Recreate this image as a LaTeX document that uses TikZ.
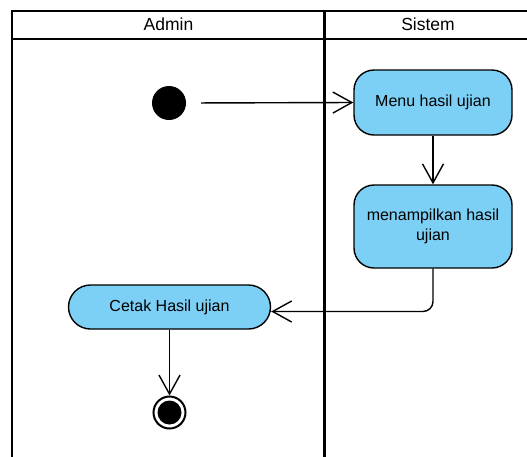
\documentclass[tikz,border=0pt]{standalone}
\usepackage{fontspec}
\setmainfont{Liberation Sans}
\usetikzlibrary{arrows.meta}
\definecolor{actfill}{RGB}{125,208,245}
\begin{document}
\begin{tikzpicture}[x=1pt,y=-1pt,
  lane/.style={line width=2.6pt, line cap=rect},
  action/.style={draw, line width=1.4pt, fill=actfill, rounded corners=20pt,
    minimum width=158pt, font=\fontsize{16}{19.5}\selectfont, align=center, inner sep=0pt},
  flow/.style={line width=1.4pt, -{Straight Barb[length=19pt,width=21pt,line width=1.4pt]}},
  header/.style={font=\fontsize{17.5}{20}\selectfont, inner sep=0pt}
  ]
\useasboundingbox (0,0) rectangle (527,456);

% swimlane frame
\draw[lane] (527,11) -- (12,11) -- (12,456);
\draw[lane] (12,39) -- (527,39);
\draw[lane] (324.5,11) -- (324.5,456);
\node[header] (hadmin) at (168.5,24) {Admin};
\node[header] (hsistem) at (428,24) {Sistem};

% start and end
\node[circle, fill=black, minimum size=34pt, inner sep=0pt] (start) at (169,103) {};
\node[circle, draw, line width=2pt, fill=white, minimum size=32pt, inner sep=0pt] (final) at (169.5,412.5) {};
\node[circle, fill=black, minimum size=24pt, inner sep=0pt] (finaldot) at (final) {};

% actions
\node[action, minimum height=65pt] (menu) at (433,102.5) {Menu hasil ujian};
\node[action, minimum height=83pt] (tampil) at (433,226.5) {menampilkan hasil\\ujian};
\node[action, minimum width=202pt, minimum height=44pt, rounded corners=22pt] (cetak) at (169.5,307) {Cetak Hasil ujian};

% control flow
\draw[flow, shorten <=15pt] (start.east) -- (menu.west);
\draw[flow] (menu.south) -- (tampil.north);
\draw[flow, rounded corners=10pt] (tampil.south) |- ([yshift=-4.5pt]cetak.east);
\draw[flow] (cetak.south) -- (final.north);
\end{tikzpicture}
\end{document}
